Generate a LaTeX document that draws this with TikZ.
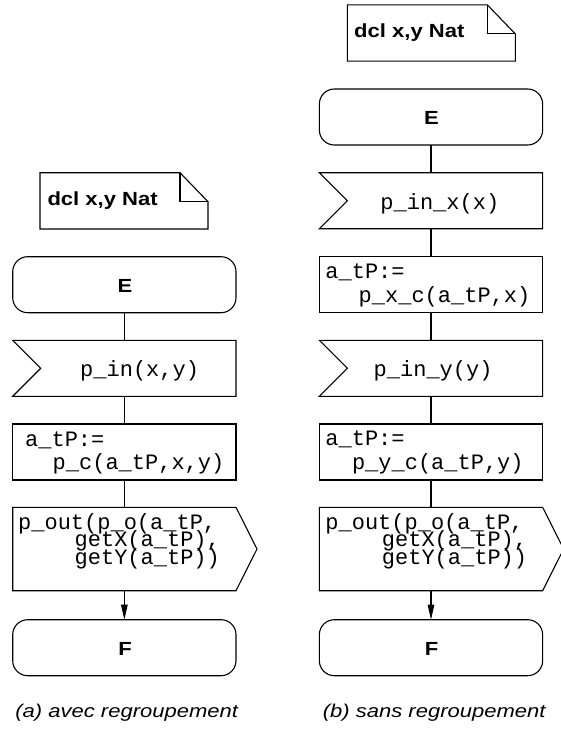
\documentclass[tikz,border=0pt]{standalone}
\usepackage{fontspec}
\setmonofont{Liberation Mono}
\newfontfamily\sansx{Liberation Sans}
\newfontfamily\sansbold{Liberation Sans Bold}
\usetikzlibrary{arrows.meta,calc}
\newcommand{\wideb}[1]{\scalebox{1.16}[1]{#1}}
\newcommand{\widei}[1]{\scalebox{1.19}[1]{#1}}
\begin{document}
\begin{tikzpicture}[x=1pt,y=-1pt,
  line/.style={line width=1.1pt, line join=miter},
  box/.style={rectangle, minimum width=223.3pt, minimum height=56pt, inner sep=0pt, outer sep=0pt},
  term/.style={box, draw, line width=1.1pt, rounded corners=15pt},
  plainbox/.style={box, draw, line width=1.1pt},
  outbox/.style={box, minimum height=83.4pt},
  notebox/.style={rectangle, minimum width=168pt, minimum height=56.3pt, inner sep=0pt, outer sep=0pt},
  mono/.style={font=\fontsize{22}{22}\selectfont\ttfamily, inner sep=0pt, anchor=base west, text height=13pt, text depth=4pt},
  monoml/.style={font={\fontsize{22}{17.7}\selectfont\ttfamily\lineskiplimit=-100pt\lineskip=0pt}, inner sep=0pt, anchor=base west, align=left},
  bsans/.style={font=\fontsize{19}{20}\selectfont\sansbold, inner sep=0pt},
  captxt/.style={font=\fontsize{18.5}{20}\selectfont\sansx\itshape, inner sep=0pt, anchor=base},
  conn/.style={line width=1.1pt},
  arr/.style={conn, -{Triangle[length=15pt,width=6.5pt]}}
]
\useasboundingbox (0,0) rectangle (561,734);

% ---------- (a) ----------
\node[notebox] (AN) at (124,200.85) {};
\draw[line] (AN.south west) -- (AN.north west) -- ($(AN.north east)+(-28,0)$) -- ($(AN.north east)+(0,29)$) -- (AN.south east) -- cycle;
\draw[line] ($(AN.north east)+(-28,0)$) -- ($(AN.north east)+(-28,29)$) -- ($(AN.north east)+(0,29)$);
\node[bsans, anchor=base west] (ANt) at (47.3,205.7) {\wideb{dcl x,y Nat}};

\node[term] (AE) at (124.35,284.7) {};
\node[bsans, anchor=base] (AEt) at (125,292.5) {\wideb{E}};

\node[box] (AI) at (124.35,368.3) {};
\draw[line] (AI.north west) -- (AI.north east) -- (AI.south east) -- (AI.south west) -- ($(AI.west)+(28,0)$) -- cycle;
\node[mono] (AIt) at (80,376.7) {p\_in(x,y)};

\node[plainbox] (AT) at (124.35,452) {};
\node[mono] (ATt1) at (25,446) {a\_tP:=};
\node[mono] (ATt2) at (52.5,469.5) {p\_c(a\_tP,x,y)};

\node[outbox] (AO) at (124.35,549) {};
\draw[line] (AO.north west) -- (AO.north east) -- ($(AO.east)+(21,0)$) -- (AO.south east) -- (AO.south west) -- cycle;
\node[monoml] (AOt) at (18,564.5) {p\_out(p\_o(a\_tP,\\\hspace*{56.5pt}getX(a\_tP),\\\hspace*{56.5pt}getY(a\_tP))};

\node[term] (AF) at (124.35,647.7) {};
\node[bsans, anchor=base] (AFt) at (125,655) {\wideb{F}};

\draw[conn] (AE) -- (AI);
\draw[conn] (AI) -- (AT);
\draw[conn] (AT) -- (AO);
\draw[arr] (AO) -- (AF);

\node[captxt] (Acap) at (126.7,717) {\widei{(a) avec regroupement}};

% ---------- (b) ----------
\node[notebox] (BN) at (431.3,33) {};
\draw[line] (BN.south west) -- (BN.north west) -- ($(BN.north east)+(-28,0)$) -- ($(BN.north east)+(0,29)$) -- (BN.south east) -- cycle;
\draw[line] ($(BN.north east)+(-28,0)$) -- ($(BN.north east)+(-28,29)$) -- ($(BN.north east)+(0,29)$);
\node[bsans, anchor=base west] (BNt) at (354,37.7) {\wideb{dcl x,y Nat}};

\node[term] (BE) at (431,117) {};
\node[bsans, anchor=base] (BEt) at (431.5,124) {\wideb{E}};

\node[box] (BI1) at (431,200.7) {};
\draw[line] (BI1.north west) -- (BI1.north east) -- (BI1.south east) -- (BI1.south west) -- ($(BI1.west)+(28,0)$) -- cycle;
\node[mono] (BI1t) at (380.2,209.3) {p\_in\_x(x)};

\node[plainbox] (BT1) at (431,284.7) {};
\node[mono] (BT1t1) at (325.2,278.5) {a\_tP:=};
\node[mono] (BT1t2) at (358.5,302) {p\_x\_c(a\_tP,x)};

\node[box] (BI2) at (431,368.3) {};
\draw[line] (BI2.north west) -- (BI2.north east) -- (BI2.south east) -- (BI2.south west) -- ($(BI2.west)+(28,0)$) -- cycle;
\node[mono] (BI2t) at (373.5,376.7) {p\_in\_y(y)};

\node[plainbox] (BT2) at (431,452) {};
\node[mono] (BT2t1) at (325.2,445.5) {a\_tP:=};
\node[mono] (BT2t2) at (351.8,469) {p\_y\_c(a\_tP,y)};

\node[outbox] (BO) at (431,549) {};
\draw[line] (BO.north west) -- (BO.north east) -- ($(BO.east)+(21,0)$) -- (BO.south east) -- (BO.south west) -- cycle;
\node[monoml] (BOt) at (325.2,564.5) {p\_out(p\_o(a\_tP,\\\hspace*{56.5pt}getX(a\_tP),\\\hspace*{56.5pt}getY(a\_tP))};

\node[term] (BF) at (431,647.7) {};
\node[bsans, anchor=base] (BFt) at (431.5,655) {\wideb{F}};

\draw[conn] (BE) -- (BI1);
\draw[conn] (BI1) -- (BT1);
\draw[conn] (BT1) -- (BI2);
\draw[conn] (BI2) -- (BT2);
\draw[conn] (BT2) -- (BO);
\draw[arr] (BO) -- (BF);

\node[captxt] (Bcap) at (434.2,717) {\widei{(b) sans regroupement}};
\end{tikzpicture}
\end{document}
